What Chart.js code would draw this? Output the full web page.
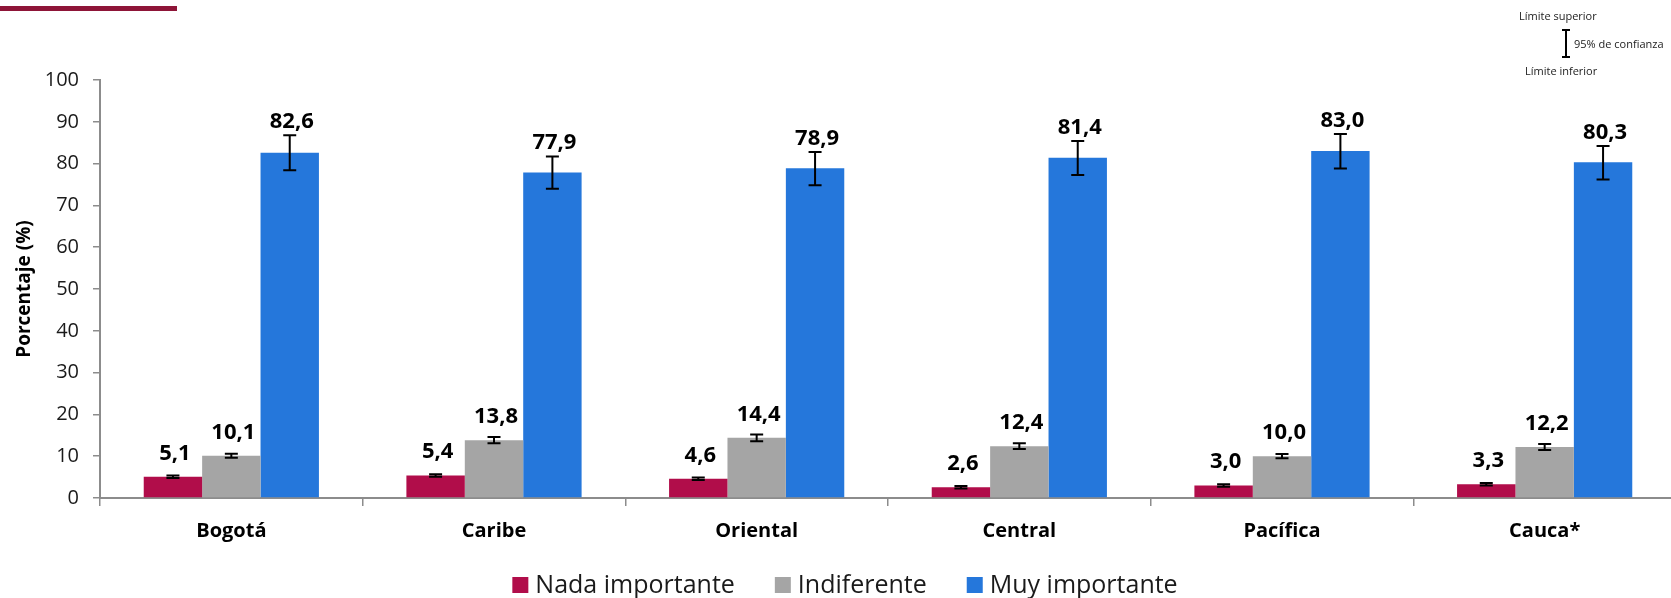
<!DOCTYPE html>
<html><head><meta charset="utf-8">
<script src="https://cdn.jsdelivr.net/npm/chart.js@4.4.0/dist/chart.umd.min.js"></script>
<style>
html,body{margin:0;padding:0;overflow:hidden;background:#fff;width:1671px;height:598px;}
#wrap{position:relative;width:1690px;height:598px;}
canvas{display:block;}
.topline{position:absolute;left:0;top:6px;width:177px;height:5px;background:#8E1538;}
.note{position:absolute;font-family:'Open Sans',sans-serif;font-size:11px;color:#222;white-space:nowrap;line-height:11px;}
.ebv{position:absolute;left:1565px;top:29px;width:2px;height:29px;background:#000;}
.cap{position:absolute;left:1562px;width:8px;height:2px;background:#000;}
</style></head>
<body>
<div id="wrap">
<canvas id="c" width="1690" height="598"></canvas>
<div class="topline"></div>
<div class="note" style="left:1519px;top:10px;">Límite superior</div>
<div class="ebv"></div><div class="cap" style="top:29px"></div><div class="cap" style="top:56px"></div>
<div class="note" style="left:1574px;top:38px;">95% de confianza</div>
<div class="note" style="left:1525px;top:65px;">Límite inferior</div>
</div>
<script>
const categories = ['Bogotá', 'Caribe', 'Oriental', 'Central', 'Pacífica', 'Cauca*'];
const seriesNames = ['Nada importante', 'Indiferente', 'Muy importante'];
const nada      = [5.1, 5.4, 4.6, 2.6, 3.0, 3.3];
const nadaLow   = [4.8, 5.1, 4.3, 2.3, 2.7, 3.0];
const nadaHigh  = [5.4, 5.7, 4.9, 2.9, 3.3, 3.6];
const indif     = [10.1, 13.8, 14.4, 12.4, 10.0, 12.2];
const indifLow  = [9.6, 13.1, 13.6, 11.7, 9.5, 11.5];
const indifHigh = [10.6, 14.6, 15.2, 13.1, 10.5, 12.9];
const muy       = [82.6, 77.9, 78.9, 81.4, 83.0, 80.3];
const muyLow    = [78.4, 74.0, 74.8, 77.3, 78.8, 76.2];
const muyHigh   = [86.8, 81.7, 82.8, 85.4, 87.1, 84.2];
const yTitle = 'Porcentaje (%)';

const FONT = "'Open Sans', 'Noto Sans', sans-serif";
const AXIS = '#8c8c8c';

const errorBarsAndLabels = {
  id: 'errorBarsAndLabels',
  afterDatasetsDraw(chart) {
    const ctx = chart.ctx;
    const ys = chart.scales.y;
    chart.data.datasets.forEach((ds, i) => {
      const meta = chart.getDatasetMeta(i);
      meta.data.forEach((bar, j) => {
        const yl = ys.getPixelForValue(ds.errLow[j]);
        const yh = ys.getPixelForValue(ds.errHigh[j]);
        ctx.save();
        ctx.strokeStyle = '#000';
        ctx.lineWidth = 2;
        ctx.beginPath();
        ctx.moveTo(bar.x, yl); ctx.lineTo(bar.x, yh);
        ctx.moveTo(bar.x - 6.5, yh); ctx.lineTo(bar.x + 6.5, yh);
        ctx.moveTo(bar.x - 6.5, yl); ctx.lineTo(bar.x + 6.5, yl);
        ctx.stroke();
        const base = Math.min(bar.y - 17, yh - 7);
        ctx.font = 'bold 22px ' + FONT;
        ctx.fillStyle = '#000';
        ctx.textAlign = 'center';
        ctx.textBaseline = 'alphabetic';
        ctx.fillText(ds.data[j].toFixed(1).replace('.', ','), bar.x + 2, base);
        ctx.restore();
      });
    });
  }
};

const bottomLegend = {
  id: 'bottomLegend',
  afterDraw(chart) {
    const ctx = chart.ctx;
    ctx.save();
    ctx.font = '25px ' + FONT;
    const box = 16, gapText = 7, gapItem = 40;
    const items = chart.data.datasets.map(ds => ({ label: ds.label, color: ds.backgroundColor, w: ctx.measureText(ds.label).width }));
    let total = items.reduce((a, it) => a + box + gapText + it.w, 0) + gapItem * (items.length - 1);
    let x = chart.width / 2 - total / 2;
    const baseline = 593;
    items.forEach(it => {
      ctx.fillStyle = it.color;
      ctx.fillRect(x, baseline - 16, box, box);
      ctx.fillStyle = '#1a1a1a';
      ctx.textAlign = 'left';
      ctx.textBaseline = 'alphabetic';
      ctx.fillText(it.label, x + box + gapText, baseline);
      x += box + gapText + it.w + gapItem;
    });
    ctx.restore();
  }
};

new Chart(document.getElementById('c'), {
  type: 'bar',
  data: {
    labels: categories,
    datasets: [
      { label: seriesNames[0], data: nada, errLow: nadaLow, errHigh: nadaHigh, backgroundColor: '#B10D4A' },
      { label: seriesNames[1], data: indif, errLow: indifLow, errHigh: indifHigh, backgroundColor: '#A5A5A5' },
      { label: seriesNames[2], data: muy, errLow: muyLow, errHigh: muyHigh, backgroundColor: '#2577DB' }
    ]
  },
  options: {
    responsive: false,
    animation: false,
    devicePixelRatio: 1,
    categoryPercentage: 0.667,
    barPercentage: 1.0,
    layout: { padding: { left: 0, right: 14, top: 80, bottom: 0 } },
    plugins: {
      legend: { display: false },
      tooltip: { enabled: false }
    },
    scales: {
      x: {
        afterFit(s) { s.height = 100; },
        grid: { display: true, drawOnChartArea: false, drawTicks: true, tickLength: 8, color: AXIS, lineWidth: 1.5, offset: true },
        border: { display: true, color: AXIS, width: 2 },
        ticks: { color: '#000', padding: 13, font: { family: FONT, size: 20, weight: 'bold' } }
      },
      y: {
        min: 0, max: 100,
        afterFit(s) { s.width = 100; },
        grid: { display: true, drawOnChartArea: false, drawTicks: true, tickLength: 7, color: AXIS, lineWidth: 1.5 },
        border: { display: true, color: AXIS, width: 2 },
        ticks: { stepSize: 10, color: '#1a1a1a', padding: 14, font: { family: FONT, size: 20 } },
        title: { display: true, text: yTitle, color: '#000', padding: { top: 13, bottom: 0 }, font: { family: FONT, size: 19, weight: 'bold' } }
      }
    }
  },
  plugins: [errorBarsAndLabels, bottomLegend]
});
</script>
</body></html>
